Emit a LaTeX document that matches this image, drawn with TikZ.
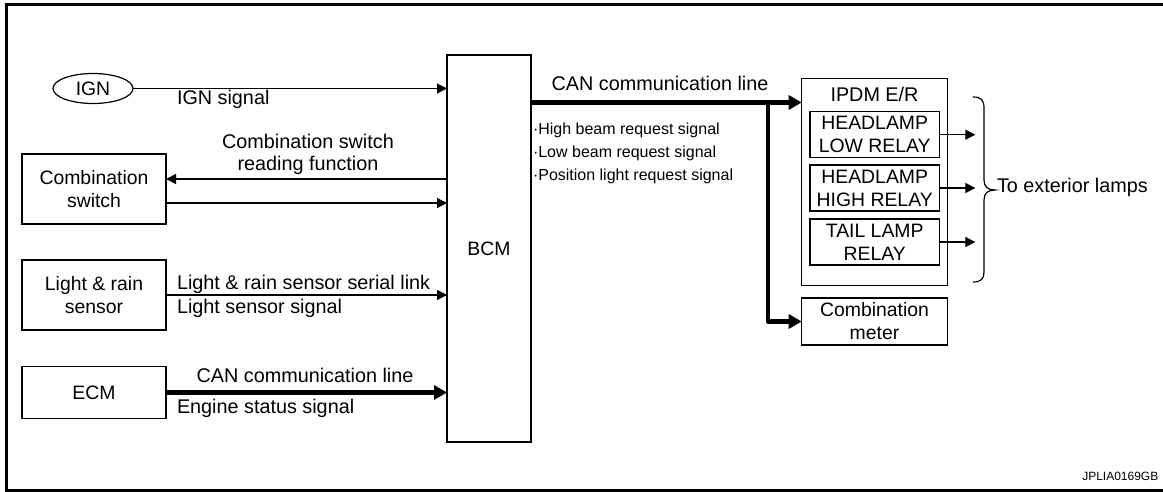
\documentclass[tikz,border=0pt]{standalone}
\usepackage{fontspec}
\setmainfont{Liberation Sans}
\usetikzlibrary{arrows.meta,shapes.geometric,calc}
\begin{document}
\begin{tikzpicture}[x=1pt,y=-1pt,
  box/.style={draw, line width=1.2pt, inner sep=0pt, outer sep=0pt, align=center,
    font=\fontsize{19.4}{23}\selectfont},
  lbl/.style={inner sep=0pt, outer sep=0pt, font=\fontsize{19.8}{22}\selectfont},
  smalllbl/.style={inner sep=0pt, outer sep=0pt, font=\fontsize{16}{23}\selectfont},
  arr/.style={line width=1.2pt, -{Triangle[length=10pt,width=10pt]}},
  thk/.style={line width=4.6pt, -{Triangle[length=13pt,width=14pt]}}]
\useasboundingbox (0,0) rectangle (1163,492);
\clip (0,0) rectangle (1163,492);

% outer frame (right side runs past the page edge)
\draw[line width=3pt] (6.5,4.7) rectangle (1175,490.5);

% blocks
\node[box, ellipse, minimum width=80pt, minimum height=30pt] (ign) at (93,88.5) {IGN};
\node[box, minimum width=84pt, minimum height=387pt] (bcm) at (489,248.5) {BCM};
\node[box, minimum width=144pt, minimum height=70pt] (sw) at (94,189) {Combination\\switch};
\node[box, minimum width=144pt, minimum height=70pt] (lrs) at (94,295) {Light \& rain\\sensor};
\node[box, minimum width=144pt, minimum height=51.5pt] (ecm) at (94,392.5) {ECM};

\node[box, minimum width=145.6pt, minimum height=207.7pt] (ipdm) at (874.5,182) {};
\node[lbl, anchor=base] (ipdmt) at (874.5,101.7) {IPDM E/R};
\node[box, minimum width=129.3pt, minimum height=46pt] (r1) at (874.7,134.7) {HEADLAMP\\LOW RELAY};
\node[box, minimum width=129.3pt, minimum height=46pt] (r2) at (874.7,188) {HEADLAMP\\HIGH RELAY};
\node[box, minimum width=129.3pt, minimum height=46pt] (r3) at (874.7,242) {TAIL LAMP\\RELAY};
\node[box, minimum width=145.6pt, minimum height=47pt] (meter) at (874.5,321.5) {Combination\\meter};

% inputs to BCM
\draw[arr] (ign.east) -- (ign.east -| bcm.west);
\coordinate (swA) at ($(sw.east)+(0,-10)$);
\coordinate (swB) at ($(sw.east)+(0,14)$);
\draw[arr] (swA -| bcm.west) -- (swA);
\draw[arr] (swB) -- (swB -| bcm.west);
\draw[arr] (lrs.east) -- (lrs.east -| bcm.west);
\draw[thk] (ecm.east) -- (ecm.east -| bcm.west);

% CAN line to IPDM E/R and combination meter
\coordinate (can) at ($(bcm.north east)+(0,47.5)$);
\draw[thk] (can) -- (can -| ipdm.west);
\coordinate (branch) at (768,100.5);
\draw[thk, line join=round] (branch) -- (branch |- meter.west) -- (meter.west);

% relay outputs
\coordinate (e1) at ($(r1.east)+(36,0)$);
\coordinate (e2) at ($(r2.east)+(36,0)$);
\coordinate (e3) at ($(r3.east)+(36,0)$);
\draw[arr] (r1.east) -- (e1);
\draw[arr] (r2.east) -- (e2);
\draw[arr] (r3.east) -- (e3);

% brace
\draw[line width=1.2pt] (973,97) .. controls (981,97) and (984,100) .. (984,108)
  -- (984,180) .. controls (984,187) and (988,190) .. (995,190)
  .. controls (988,190) and (984,193) .. (984,200)
  -- (984,272) .. controls (984,279) and (981,282) .. (973,282);

% signal labels
\node[lbl, anchor=base west] (l1) at (177,104.5) {IGN signal};
\node[lbl, align=center] (l2) at (308,154) {Combination switch\\reading function};
\node[lbl, anchor=base west] (l3) at (177,289.5) {Light \& rain sensor serial link};
\node[lbl, anchor=base west] (l4) at (177,313) {Light sensor signal};
\node[lbl, anchor=base] (l5) at (305,382.7) {CAN communication line};
\node[lbl, anchor=base west] (l6) at (177,413.3) {Engine status signal};
\node[lbl, anchor=base] (l7) at (660,91) {CAN communication line};
\node[smalllbl, anchor=base west] (b1) at (533,135) {·High beam request signal};
\node[smalllbl, anchor=base west] (b2) at (533,157.5) {·Low beam request signal};
\node[smalllbl, anchor=base west] (b3) at (533,180.5) {·Position light request signal};
\node[lbl, anchor=base west] (ext) at (997,192.7) {To exterior lamps};
\node[inner sep=0pt, font=\fontsize{12}{14}\selectfont, anchor=base east] (code) at (1158.5,480.5) {JPLIA0169GB};
\end{tikzpicture}
\end{document}
